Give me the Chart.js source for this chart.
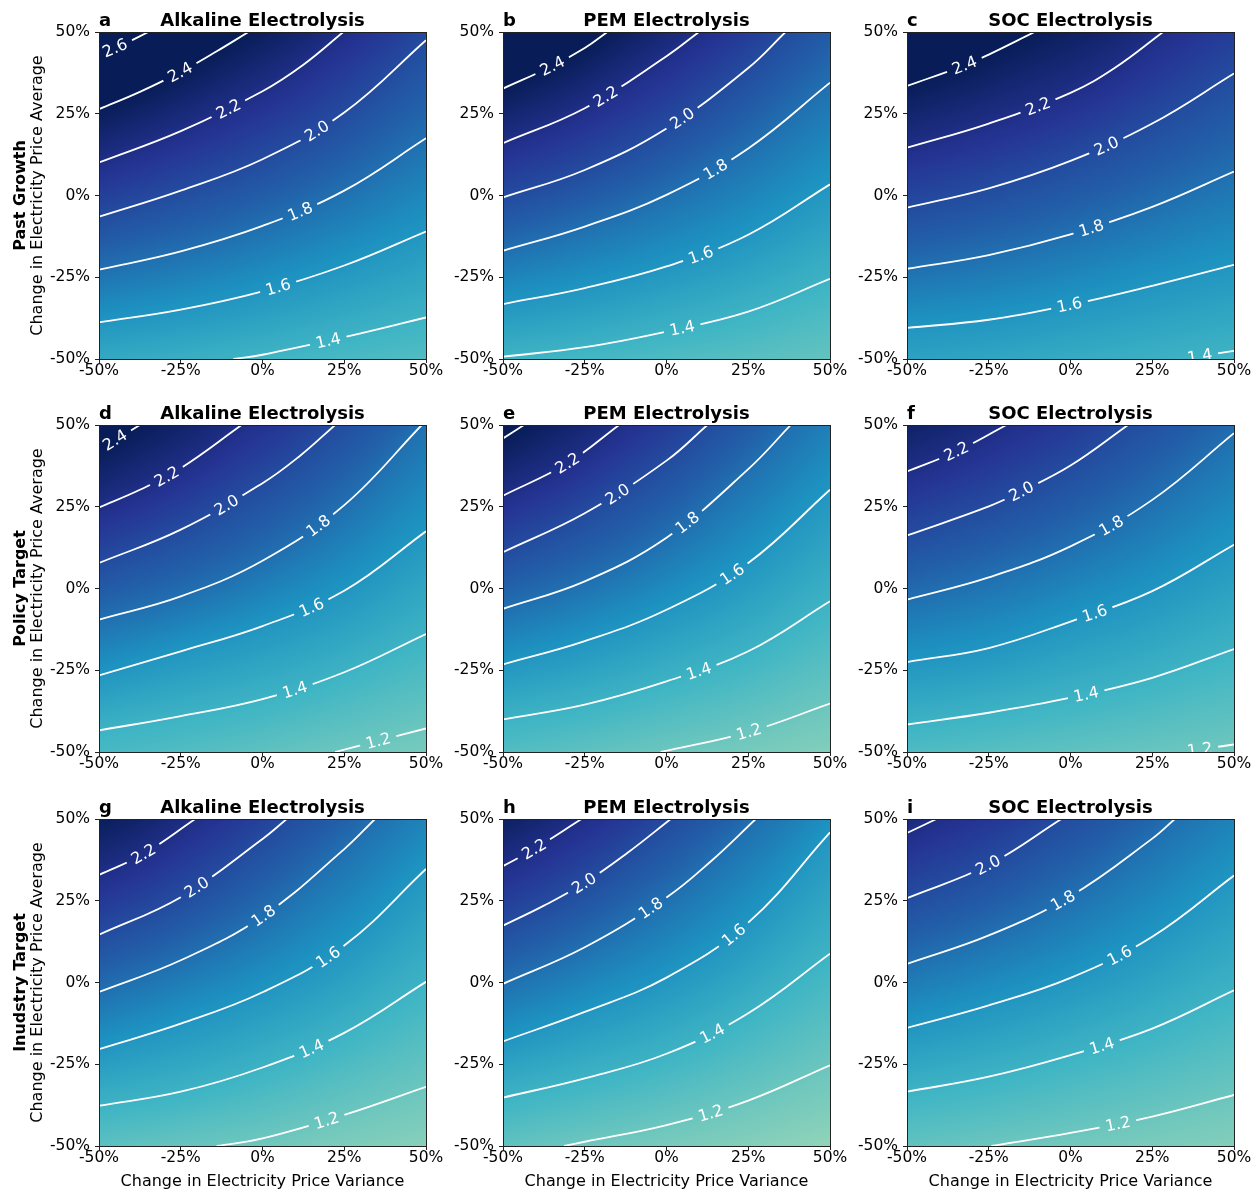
<!DOCTYPE html>
<html>
<head>
<meta charset="utf-8">
<script src="https://cdn.jsdelivr.net/npm/chart.js@4.4.1/dist/chart.umd.min.js"></script>
<style>
  html, body { margin: 0; padding: 0; background: #fff; }
  body { width: 1253px; height: 1190px; position: relative; overflow: hidden; }
  canvas { position: absolute; }
</style>
</head>
<body>
<script>
// ---- data ----
const rowNames = ['Past Growth', 'Policy Target', 'Inudstry Target'];
const techNames = ['Alkaline Electrolysis', 'PEM Electrolysis', 'SOC Electrolysis'];
const panelLetters = ['a', 'b', 'c', 'd', 'e', 'f', 'g', 'h', 'i'];
const tickValues = [-50, -25, 0, 25, 50];
const tickLabels = ['-50%', '-25%', '0%', '25%', '50%'];
const xTitle = 'Change in Electricity Price Variance';
const yTitle = 'Change in Electricity Price Average';

// contour levels, contour paths [variance %, average %], label positions (variance %)
const levelsA = [2.6, 2.4, 2.2, 2.0, 1.8, 1.6, 1.4];
const linesA = [
  [[-50, 43.1], [-42.6, 46.2], [-34.9, 50]],
  [[-50, 26.4], [-37.5, 31.7], [-25, 37.8], [-14.0, 44.1], [-4.3, 50]],
  [[-50, 10.1], [-25, 19.7], [0, 31.9], [12.5, 40.0], [24.7, 50]],
  [[-50, -6.5], [-25, 1.5], [0, 11.1], [25, 25.4], [50, 47.5]],
  [[-50, -22.7], [-25, -17.1], [0, -9.3], [25, 1.5], [50, 17.5]],
  [[-50, -38.8], [-25, -34.9], [0, -29.3], [25, -21.4], [50, -11.0]],
  [[-8.9, -50], [0, -48.7], [25, -43.3], [50, -37.3]]
];
const labelXA = [-45.1, -25.2, -10.4, 16.6, 11.5, 4.8, 20.1];

const levelsB = [2.4, 2.2, 2.0, 1.8, 1.6, 1.4];
const linesB = [
  [[-50, 32.7], [-34.9, 39.6], [-25, 45.1], [-18.1, 50]],
  [[-50, 16.0], [-25, 26.7], [0, 42.6], [9.9, 50]],
  [[-50, -0.6], [-25, 7.8], [0, 20.5], [25, 39.0], [36.4, 50]],
  [[-50, -16.9], [-25, -9.5], [0, 0.2], [25, 14.4], [50, 34.5]],
  [[-50, -33.2], [-25, -28.3], [0, -21.7], [25, -12.0], [50, 3.4]],
  [[-50, -49.3], [-25, -46.4], [0, -41.6], [25, -35.5], [50, -25.5]]
];
const labelXB = [-34.9, -18.6, 4.8, 15.0, 10.5, 4.8];

const levelsC = [2.4, 2.2, 2.0, 1.8, 1.6, 1.4];
const linesC = [
  [[-50, 33.5], [-32.4, 39.8], [-25, 43.1], [-11.0, 50]],
  [[-50, 14.6], [-25, 22.0], [0, 31.4], [13.5, 39.0], [28.3, 50]],
  [[-50, -3.7], [-25, 2.2], [0, 10.6], [25, 22.0], [50, 37.3]],
  [[-50, -22.4], [-25, -18.2], [0, -11.9], [25, -3.5], [50, 7.3]],
  [[-50, -40.5], [-25, -38.0], [0, -33.4], [25, -27.6], [50, -21.2]],
  [[33.9, -50], [50, -47.5]]
];
const labelXC = [-32.4, -9.9, 11.0, 6.4, -0.3, 39.5];

const levelsD = [2.4, 2.2, 2.0, 1.8, 1.6, 1.4, 1.2];
const linesD = [
  [[-50, 42.4], [-37.5, 50]],
  [[-50, 24.8], [-37.5, 30.2], [-25, 36.8], [-6.4, 50]],
  [[-50, 7.8], [-25, 18.0], [0, 32.2], [11.5, 40.6], [22.2, 50]],
  [[-50, -9.5], [-25, -2.4], [0, 8.5], [25, 25.5], [48.7, 50]],
  [[-50, -26.6], [-25, -19.2], [0, -11.5], [25, -0.7], [50, 17.5]],
  [[-50, -43.4], [-25, -39.0], [0, -33.8], [25, -25.6], [50, -13.9]],
  [[22.2, -50], [35.4, -46.6], [50, -42.8]]
];
const labelXD = [-45.1, -29.3, -11.0, 17.1, 15.0, 9.9, 35.4];

const levelsE = [2.4, 2.2, 2.0, 1.8, 1.6, 1.4, 1.2];
const linesE = [
  [[-50, 45.9], [-43.6, 50]],
  [[-50, 28.4], [-30.3, 38.3], [-14.5, 50]],
  [[-50, 11.1], [-25, 23.0], [0, 39.1], [12.5, 50]],
  [[-50, -6.2], [-25, 2.2], [0, 15.5], [25, 36.5], [38.0, 50]],
  [[-50, -23.2], [-25, -16.1], [0, -6.5], [25, 7.8], [50, 30.2]],
  [[-50, -40.0], [-25, -35.5], [0, -28.4], [25, -19.2], [50, -3.9]],
  [[-1.8, -50], [25, -43.9], [50, -35.2]]
];
const labelXE = [null, -30.3, -15.0, 6.4, 20.1, 9.9, 25.2];

const levelsF = [2.2, 2.0, 1.8, 1.6, 1.4, 1.2];
const linesF = [
  [[-50, 35.8], [-34.9, 41.9], [-19.6, 50]],
  [[-50, 16.2], [-25, 25.1], [-15, 29.7], [0, 37.6], [17.6, 50]],
  [[-50, -3.4], [-25, 3.4], [0, 12.9], [25, 27.1], [50, 47.5]],
  [[-50, -22.5], [-25, -18.2], [0, -10.1], [25, -0.8], [50, 13.4]],
  [[-50, -41.6], [-25, -38.0], [0, -33.4], [25, -27.3], [50, -18.5]],
  [[33.9, -50], [50, -47.7]]
];
const labelXF = [-34.9, -15.0, 12.5, 7.4, 4.8, 39.5];

const levelsG = [2.2, 2.0, 1.8, 1.6, 1.4, 1.2];
const linesG = [
  [[-50, 32.9], [-36.4, 39.3], [-20.6, 50]],
  [[-50, 14.6], [-25, 26.1], [0, 43.9], [7.4, 50]],
  [[-50, -2.9], [-25, 6.8], [0, 20.2], [25, 40.8], [34.4, 50]],
  [[-50, -20.4], [-25, -12.6], [0, -3.0], [25, 11.3], [50, 34.7]],
  [[-50, -37.7], [-25, -33.4], [0, -26.0], [25, -15.4], [50, 0.2]],
  [[-14.0, -50], [0, -47.7], [25, -40.5], [50, -31.9]]
];
const labelXG = [-36.4, -20.1, 0.3, 20.1, 15.0, 19.6];

const levelsH = [2.2, 2.0, 1.8, 1.6, 1.4, 1.2];
const linesH = [
  [[-50, 35.6], [-40.5, 40.8], [-26.0, 50]],
  [[-50, 17.4], [-37.5, 23.5], [-25, 30.5], [-12, 39.6], [1.3, 50]],
  [[-50, -0.4], [-25, 10.8], [0, 26.0], [13.5, 37.0], [27.3, 50]],
  [[-50, -18.0], [-25, -9.0], [0, 1.5], [25, 18.3], [50, 45.9]],
  [[-50, -35.2], [-25, -29.3], [0, -21.8], [25, -9.4], [50, 8.8]],
  [[-31.3, -50], [-25, -48.7], [0, -43.6], [25, -36.1], [50, -25.3]]
];
const labelXH = [-40.5, -25.2, -4.8, 20.6, 14.0, 13.5];

const levelsI = [2.2, 2.0, 1.8, 1.6, 1.4, 1.2];
const linesI = [
  [[-50, 45.7], [-41.0, 50]],
  [[-50, 25.8], [-25, 36.0], [-2.8, 50]],
  [[-50, 5.7], [-25, 14.4], [0, 26.4], [25, 44.0], [31.9, 50]],
  [[-50, -13.9], [-25, -7.0], [0, 1.4], [25, 14.0], [50, 32.7]],
  [[-50, -33.4], [-25, -28.8], [0, -22.2], [25, -14.1], [50, -2.4]],
  [[-24.2, -50], [0, -46.0], [25, -41.0], [50, -34.4]]
];
const labelXI = [null, -25.2, -2.3, 15.0, 9.6, 14.5];

const panels = [
  { levels: levelsA, lines: linesA, labelX: labelXA },
  { levels: levelsB, lines: linesB, labelX: labelXB },
  { levels: levelsC, lines: linesC, labelX: labelXC },
  { levels: levelsD, lines: linesD, labelX: labelXD },
  { levels: levelsE, lines: linesE, labelX: labelXE },
  { levels: levelsF, lines: linesF, labelX: labelXF },
  { levels: levelsG, lines: linesG, labelX: labelXG },
  { levels: levelsH, lines: linesH, labelX: labelXH },
  { levels: levelsI, lines: linesI, labelX: labelXI }
];

// ---- look ----
const FONT = "'DejaVu Sans', sans-serif";
const cmapStops = [
  [255, 255, 217], [237, 248, 177], [199, 233, 180], [127, 205, 187], [65, 182, 196],
  [29, 145, 192], [34, 94, 168], [37, 52, 148], [8, 29, 88]
]; // YlGnBu
const colorMin = 0.35, colorMax = 2.4;

function cmap(v) {
  let t = (v - colorMin) / (colorMax - colorMin);
  t = Math.max(0, Math.min(1, t)) * (cmapStops.length - 1);
  const i = Math.min(Math.floor(t), cmapStops.length - 2), f = t - i;
  const a = cmapStops[i], b = cmapStops[i + 1];
  return [a[0] + (b[0] - a[0]) * f, a[1] + (b[1] - a[1]) * f, a[2] + (b[2] - a[2]) * f];
}

// turn the bezier path Chart.js drew into a polyline (pixels)
function curvePixels(meta) {
  const pts = meta.data;
  const out = [];
  for (let i = 0; i < pts.length - 1; i++) {
    const a = pts[i], b = pts[i + 1];
    const c1x = a.cp2x ?? a.x, c1y = a.cp2y ?? a.y;
    const c2x = b.cp1x ?? b.x, c2y = b.cp1y ?? b.y;
    for (let k = 0; k < 20; k++) {
      const t = k / 20, u = 1 - t;
      out.push([
        u * u * u * a.x + 3 * u * u * t * c1x + 3 * u * t * t * c2x + t * t * t * b.x,
        u * u * u * a.y + 3 * u * u * t * c1y + 3 * u * t * t * c2y + t * t * t * b.y
      ]);
    }
  }
  const last = pts[pts.length - 1];
  out.push([last.x, last.y]);
  return out;
}

function yAt(poly, px) {
  const n = poly.length;
  if (px <= poly[0][0]) {
    const p0 = poly[0], p1 = poly[Math.min(4, n - 1)];
    return p0[1] + (px - p0[0]) * (p1[1] - p0[1]) / ((p1[0] - p0[0]) || 1e-6);
  }
  if (px >= poly[n - 1][0]) {
    const p1 = poly[n - 1], p0 = poly[Math.max(0, n - 5)];
    return p1[1] + (px - p1[0]) * (p1[1] - p0[1]) / ((p1[0] - p0[0]) || 1e-6);
  }
  for (let i = 0; i < n - 1; i++) {
    const p0 = poly[i], p1 = poly[i + 1];
    if (px >= p0[0] && px <= p1[0]) {
      return p0[1] + (px - p0[0]) * (p1[1] - p0[1]) / ((p1[0] - p0[0]) || 1e-6);
    }
  }
  return poly[n - 1][1];
}

function makePlugin(panel, idx) {
  const r = Math.floor(idx / 3), c = idx % 3;
  let labelBoxes = [];
  return {
    id: 'contourPanel' + idx,
    beforeDatasetsDraw(chart) {
      const ctx = chart.ctx;
      const { left, top, right, bottom } = chart.chartArea;
      const levels = panel.levels;
      const n = levels.length;
      const curves = levels.map((lv, i) => curvePixels(chart.getDatasetMeta(i)));

      // smooth field between the contour lines
      const w = Math.round(right - left) + 1, h = Math.round(bottom - top) + 1;
      const img = ctx.createImageData(w, h);
      for (let i = 0; i < w; i++) {
        const px = left + i;
        const ys = curves.map(cv => yAt(cv, px));
        for (let j = 0; j < h; j++) {
          const py = top + j;
          let v;
          if (py <= ys[0]) {
            v = levels[0] + (ys[0] - py) / Math.max(ys[1] - ys[0], 4) * (levels[0] - levels[1]);
          } else if (py >= ys[n - 1]) {
            v = levels[n - 1] - (py - ys[n - 1]) / Math.max(ys[n - 1] - ys[n - 2], 4) * (levels[n - 2] - levels[n - 1]);
          } else {
            let k = 0;
            while (k < n - 2 && py > ys[k + 1]) k++;
            v = levels[k] + (py - ys[k]) / Math.max(ys[k + 1] - ys[k], 1e-3) * (levels[k + 1] - levels[k]);
          }
          v = Math.max(levels[n - 1] - 0.35, Math.min(levels[0] + 0.35, v));
          const col = cmap(v);
          const o = (j * w + i) * 4;
          img.data[o] = col[0]; img.data[o + 1] = col[1]; img.data[o + 2] = col[2]; img.data[o + 3] = 255;
        }
      }
      ctx.putImageData(img, Math.round(left), Math.round(top));

      // label positions and line gaps
      ctx.font = '16px ' + FONT;
      const xs = chart.scales.x;
      labelBoxes = [];
      panel.labelX.forEach((lx, i) => {
        if (lx === null) return;
        const px = xs.getPixelForValue(lx);
        const py = yAt(curves[i], px);
        const y1 = yAt(curves[i], px - 8), y2 = yAt(curves[i], px + 8);
        const ang = Math.atan2(y2 - y1, 16);
        const text = levels[i].toFixed(1);
        const tw = ctx.measureText(text).width;
        labelBoxes.push({ px, py, ang, text, half: tw / 2 + 6 });
      });
      ctx.save();
      ctx.beginPath();
      ctx.rect(left, top, right - left, bottom - top);
      labelBoxes.forEach(b => {
        const ca = Math.cos(b.ang), sa = Math.sin(b.ang), hh = 9;
        const corners = [[-b.half, -hh], [b.half, -hh], [b.half, hh], [-b.half, hh]];
        corners.forEach((q, k) => {
          const X = b.px + q[0] * ca - q[1] * sa;
          const Y = b.py + q[0] * sa + q[1] * ca;
          if (k === 0) ctx.moveTo(X, Y); else ctx.lineTo(X, Y);
        });
        ctx.closePath();
      });
      ctx.clip('evenodd');
    },
    afterDatasetsDraw(chart) {
      const ctx = chart.ctx;
      const { left, top, right, bottom } = chart.chartArea;
      ctx.restore();
      ctx.save();
      ctx.beginPath();
      ctx.rect(left, top, right - left, bottom - top);
      ctx.clip();
      ctx.fillStyle = '#fff';
      ctx.font = '16px ' + FONT;
      ctx.textAlign = 'center';
      ctx.textBaseline = 'middle';
      labelBoxes.forEach(b => {
        ctx.save();
        ctx.translate(b.px, b.py);
        ctx.rotate(b.ang);
        ctx.fillText(b.text, 0, 1);
        ctx.restore();
      });
      ctx.restore();
    },
    afterDraw(chart) {
      const ctx = chart.ctx;
      const { left, top, right, bottom } = chart.chartArea;
      ctx.save();
      ctx.strokeStyle = '#222';
      ctx.lineWidth = 1;
      ctx.strokeRect(left + 0.5, top + 0.5, right - left, bottom - top);

      ctx.fillStyle = '#000';
      ctx.textBaseline = 'alphabetic';
      ctx.font = 'bold 18px ' + FONT;
      ctx.textAlign = 'left';
      ctx.fillText(panelLetters[idx], left, top - 6);
      ctx.textAlign = 'center';
      ctx.fillText(techNames[c], (left + right) / 2, top - 6);

      if (r === 2) {
        ctx.font = '16px ' + FONT;
        ctx.fillText(xTitle, (left + right) / 2, bottom + 40);
      }
      if (c === 0) {
        const cy = (top + bottom) / 2;
        ctx.save();
        ctx.translate(25, cy);
        ctx.rotate(-Math.PI / 2);
        ctx.font = 'bold 16px ' + FONT;
        ctx.fillText(rowNames[r], 0, 0);
        ctx.restore();
        ctx.save();
        ctx.translate(42, cy);
        ctx.rotate(-Math.PI / 2);
        ctx.font = '16px ' + FONT;
        ctx.fillText(yTitle, 0, 0);
        ctx.restore();
      }
      ctx.restore();
    }
  };
}

const canvasLefts = [0, 404, 808];
const canvasTops = [0, 393, 787];

panels.forEach((panel, idx) => {
  const r = Math.floor(idx / 3), c = idx % 3;
  const cv = document.createElement('canvas');
  cv.width = 445; cv.height = 404;
  cv.style.left = canvasLefts[c] + 'px';
  cv.style.top = canvasTops[r] + 'px';
  cv.style.width = '445px'; cv.style.height = '404px';
  document.body.appendChild(cv);

  const tickOpts = {
    color: '#000',
    font: { family: FONT, size: 15.5 },
    autoSkip: false,
    maxRotation: 0,
    callback: v => tickLabels[tickValues.indexOf(v)] ?? ''
  };
  const setTicks = s => { s.ticks = tickValues.map(v => ({ value: v })); };

  new Chart(cv, {
    type: 'line',
    data: {
      datasets: panel.lines.map((pts, i) => ({
        label: panel.levels[i].toFixed(1),
        data: pts.map(p => ({ x: p[0], y: p[1] })),
        borderColor: '#ffffff',
        borderWidth: 1.8,
        pointRadius: 0,
        fill: false,
        tension: 0.4
      }))
    },
    options: {
      responsive: false,
      animation: false,
      devicePixelRatio: 1,
      layout: { padding: { top: 32, right: 19, left: 0, bottom: 0 } },
      plugins: { legend: { display: false }, tooltip: { enabled: false } },
      scales: {
        x: {
          type: 'linear', min: -50, max: 50,
          afterBuildTicks: setTicks,
          ticks: Object.assign({ padding: -1 }, tickOpts),
          grid: { drawOnChartArea: false, tickLength: 4, color: '#222' },
          border: { display: false },
          afterFit: s => { s.height = 45; }
        },
        y: {
          type: 'linear', min: -50, max: 50,
          afterBuildTicks: setTicks,
          ticks: Object.assign({ padding: 5 }, tickOpts),
          grid: { drawOnChartArea: false, tickLength: 4, color: '#222' },
          border: { display: false },
          afterFit: s => { s.width = 99; }
        }
      }
    },
    plugins: [makePlugin(panel, idx)]
  });
});
</script>
</body>
</html>
